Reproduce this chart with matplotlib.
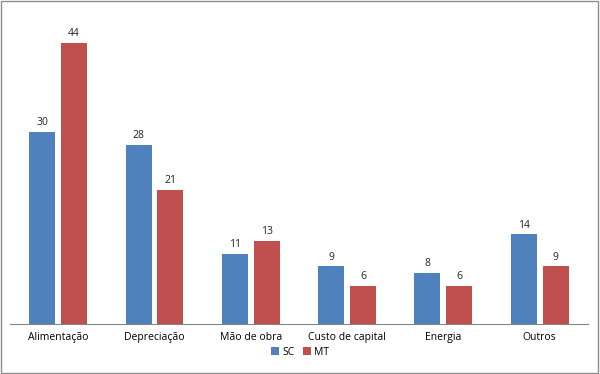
import numpy as np
import matplotlib.pyplot as plt
from matplotlib.patches import Rectangle

categories = ["Alimentação", "Depreciação", "Mão de obra", "Custo de capital", "Energia", "Outros"]
sc_values = [30, 28, 11, 9, 8, 14]
mt_values = [44, 21, 13, 6, 6, 9]

plt.rcParams['font.family'] = ['Open Sans', 'DejaVu Sans']

fig = plt.figure(figsize=(6, 3.74), dpi=100)
ax = fig.add_axes([0.0167, 0.134, 0.963, 0.854])

x = np.arange(len(categories))
w = 0.27
off = 0.165
b1 = ax.bar(x - off, sc_values, w, color="#4F81BD", label="SC")
b2 = ax.bar(x + off, mt_values, w, color="#C0504D", label="MT")

for bars, vals in [(b1, sc_values), (b2, mt_values)]:
    for b, v in zip(bars, vals):
        ax.text(b.get_x() + b.get_width() / 2, v + 0.6, str(v),
                ha="center", va="bottom", fontsize=7.5, color="#222222")

ax.set_xlim(-0.5, len(categories) - 0.5)
ax.set_ylim(0, 50)
ax.set_xticks(x)
ax.set_xticklabels(categories, fontsize=7.5)
ax.tick_params(axis="x", length=0, pad=6)
ax.set_yticks([])
for s in ["top", "right", "left"]:
    ax.spines[s].set_visible(False)
ax.spines["bottom"].set_color("#868686")

fig.legend(handles=[b1, b2], loc="center", bbox_to_anchor=(0.5, 0.058), ncol=2,
           frameon=False, fontsize=7.5, handlelength=0.8, handleheight=0.8,
           handletextpad=0.3, columnspacing=0.8)

fig.patches.append(Rectangle((0.002, 0.003), 0.995, 0.994, transform=fig.transFigure,
                             fill=False, edgecolor="#8c8c8c", linewidth=1))

fig.savefig("out.png", dpi=100)
